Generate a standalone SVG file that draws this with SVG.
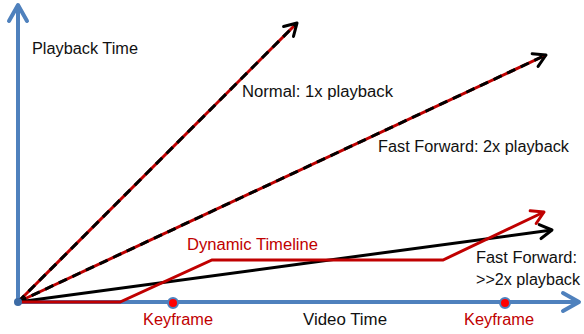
<svg xmlns="http://www.w3.org/2000/svg" width="584" height="334" viewBox="0 0 584 334">
  <style>
    .lbl { font-family: "Liberation Sans", Arial, sans-serif; font-size: 16px; fill: #111; }
    .red { fill: #C00000; }
    .axis { stroke: #4F81BD; stroke-width: 4; fill: none; }
    .base { stroke: #C00000; stroke-width: 3; fill: none; }
    .dash { stroke: #000; stroke-width: 3; fill: none; stroke-dasharray: 9 6; }
    .solid { stroke: #000; stroke-width: 3; fill: none; }
  </style>
  <defs>
    <marker id="axisHead" markerUnits="userSpaceOnUse" viewBox="-20 -12 24 24" refX="0" refY="0" markerWidth="24" markerHeight="24" orient="auto">
      <path d="M-16 -9 L0 0 L-16 9" fill="none" stroke="#4F81BD" stroke-width="4" stroke-linecap="round" stroke-linejoin="round"/>
    </marker>
    <marker id="blackHead" markerUnits="userSpaceOnUse" viewBox="-16 -10 20 20" refX="0" refY="0" markerWidth="20" markerHeight="20" orient="auto">
      <path d="M-12 -7 L0 0 L-12 7" fill="none" stroke="#000" stroke-width="3" stroke-linecap="round" stroke-linejoin="round"/>
    </marker>
    <marker id="redHead" markerUnits="userSpaceOnUse" viewBox="-16 -10 20 20" refX="0" refY="0" markerWidth="20" markerHeight="20" orient="auto">
      <path d="M-12 -7 L0 0 L-12 7" fill="none" stroke="#C00000" stroke-width="3" stroke-linecap="round" stroke-linejoin="round"/>
    </marker>
  </defs>

  <g id="connectors">
    <!-- axes -->
    <line class="axis" x1="18" y1="302" x2="18" y2="5" marker-end="url(#axisHead)"/>
    <line class="axis" x1="18" y1="302" x2="579" y2="302" marker-end="url(#axisHead)"/>
    <!-- normal playback -->
    <line class="base" x1="18" y1="302" x2="297" y2="23"/>
    <line class="dash" x1="18" y1="302" x2="297" y2="23" marker-end="url(#blackHead)"/>
    <!-- 2x playback -->
    <line class="base" x1="18" y1="302" x2="546" y2="55"/>
    <line class="dash" x1="18" y1="302" x2="546" y2="55" marker-end="url(#blackHead)"/>
    <!-- >>2x playback -->
    <line class="solid" x1="18" y1="302" x2="552" y2="230" marker-end="url(#blackHead)"/>
    <!-- dynamic timeline -->
    <polyline class="base" points="18,302 120,302 212,260 443,260 544,212" marker-end="url(#redHead)"/>
  </g>

  <g id="origin">
    <circle cx="18" cy="302" r="4" fill="#3C6BA5"/>
  </g>
  <g id="keyframe1">
    <circle cx="173" cy="303" r="5" fill="#FF0000" stroke="#4F81BD" stroke-width="2"/>
    <text class="lbl red" x="143" y="325" textLength="70" lengthAdjust="spacingAndGlyphs">Keyframe</text>
  </g>
  <g id="keyframe2">
    <circle cx="505" cy="303" r="5" fill="#FF0000" stroke="#4F81BD" stroke-width="2"/>
    <text class="lbl red" x="464" y="325" textLength="70" lengthAdjust="spacingAndGlyphs">Keyframe</text>
  </g>

  <g id="y-label"><text class="lbl" x="32" y="54" textLength="106" lengthAdjust="spacingAndGlyphs">Playback Time</text></g>
  <g id="x-label"><text class="lbl" x="303" y="325" textLength="84" lengthAdjust="spacingAndGlyphs">Video Time</text></g>
  <g id="normal-label"><text class="lbl" x="242" y="97" textLength="151" lengthAdjust="spacingAndGlyphs">Normal: 1x playback</text></g>
  <g id="ff2-label"><text class="lbl" x="378" y="152" textLength="191" lengthAdjust="spacingAndGlyphs">Fast Forward: 2x playback</text></g>
  <g id="dynamic-label"><text class="lbl red" x="187" y="250" textLength="131" lengthAdjust="spacingAndGlyphs">Dynamic Timeline</text></g>
  <g id="ffx-label">
    <text class="lbl" x="476" y="263" textLength="101" lengthAdjust="spacingAndGlyphs">Fast Forward:</text>
    <text class="lbl" x="476" y="285" textLength="104" lengthAdjust="spacingAndGlyphs">&gt;&gt;2x playback</text>
  </g>
</svg>
